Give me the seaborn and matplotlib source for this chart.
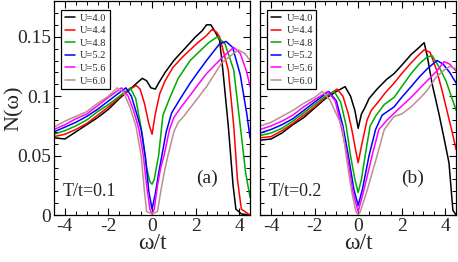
import pandas as pd
import seaborn as sns
import matplotlib.pyplot as plt
from matplotlib.ticker import MultipleLocator, FixedLocator

sns.set_style("ticks")
plt.rcParams['font.family'] = ['Liberation Serif', 'DejaVu Serif']
plt.rcParams['axes.unicode_minus'] = False

labels = ["U=4.0", "U=4.4", "U=4.8", "U=5.2", "U=5.6", "U=6.0"]
colors = ["black", "red", "#00aa00", "blue", "magenta", "#bc8f8f"]

# panel (a), T/t=0.1 : (omega, N) pairs
a_x_40 = [-4.5, -4.0, -3.5, -3.0, -2.5, -2.0, -1.5, -1.0, -0.7, -0.45, -0.25, -0.05, 0.15, 0.3, 0.6, 1.0, 1.5, 2.0, 2.3, 2.5, 2.7, 2.9, 3.1, 3.25, 3.5, 3.72, 3.85, 4.1, 4.5]
a_y_40 = [0.065, 0.064, 0.070, 0.076, 0.082, 0.089, 0.098, 0.106, 0.111, 0.115, 0.113, 0.107, 0.106, 0.111, 0.120, 0.130, 0.140, 0.150, 0.155, 0.160, 0.160, 0.154, 0.147, 0.122, 0.075, 0.025, 0.005, 0.001, 0.0]
a_x_44 = [-4.5, -4.0, -3.5, -3.0, -2.5, -2.0, -1.5, -1.0, -0.73, -0.55, -0.35, -0.15, 0.0, 0.15, 0.35, 0.6, 0.95, 1.4, 1.75, 2.1, 2.5, 2.75, 2.95, 3.1, 3.5, 3.75, 3.92, 4.1, 4.5]
a_y_44 = [0.066, 0.068, 0.072, 0.077, 0.084, 0.091, 0.099, 0.106, 0.109, 0.106, 0.094, 0.077, 0.068, 0.085, 0.102, 0.113, 0.124, 0.133, 0.139, 0.145, 0.151, 0.156, 0.154, 0.150, 0.122, 0.075, 0.030, 0.005, 0.0]
a_x_48 = [-4.5, -4.0, -3.5, -3.0, -2.5, -2.0, -1.5, -1.0, -0.75, -0.45, -0.25, -0.1, 0.0, 0.1, 0.3, 0.5, 0.8, 1.2, 1.75, 2.2, 2.6, 3.0, 3.35, 3.75, 4.05, 4.3, 4.5]
a_y_48 = [0.068, 0.071, 0.075, 0.080, 0.087, 0.093, 0.100, 0.107, 0.098, 0.068, 0.040, 0.028, 0.026, 0.030, 0.050, 0.084, 0.098, 0.115, 0.130, 0.138, 0.145, 0.150, 0.144, 0.122, 0.075, 0.035, 0.015]
a_x_52 = [-4.5, -4.0, -3.5, -3.0, -2.5, -2.0, -1.5, -1.2, -0.95, -0.75, -0.5, -0.3, -0.15, 0.0, 0.15, 0.3, 0.45, 0.65, 0.9, 1.3, 1.75, 2.1, 2.5, 2.8, 3.1, 3.4, 3.7, 4.05, 4.35, 4.5]
a_y_52 = [0.070, 0.074, 0.078, 0.083, 0.089, 0.096, 0.103, 0.107, 0.100, 0.088, 0.072, 0.048, 0.020, 0.005, 0.018, 0.035, 0.050, 0.070, 0.086, 0.098, 0.111, 0.120, 0.130, 0.137, 0.144, 0.146, 0.141, 0.118, 0.085, 0.065]
a_x_56 = [-4.5, -4.0, -3.5, -3.0, -2.5, -2.0, -1.4, -1.1, -0.85, -0.6, -0.4, -0.25, -0.1, 0.0, 0.1, 0.25, 0.4, 0.55, 0.8, 1.0, 1.3, 1.8, 2.5, 3.25, 3.75, 4.05, 4.35, 4.5]
a_y_56 = [0.072, 0.076, 0.081, 0.085, 0.092, 0.099, 0.107, 0.100, 0.088, 0.072, 0.050, 0.025, 0.005, 0.001, 0.005, 0.025, 0.040, 0.050, 0.072, 0.082, 0.090, 0.102, 0.119, 0.133, 0.141, 0.136, 0.120, 0.108]
a_x_60 = [-4.5, -4.0, -3.5, -3.0, -2.5, -2.0, -1.6, -1.3, -1.0, -0.73, -0.5, -0.35, -0.25, 0.0, 0.25, 0.4, 0.55, 0.73, 1.0, 1.2, 1.45, 2.0, 2.5, 3.2, 3.95, 4.25, 4.5]
a_y_60 = [0.074, 0.079, 0.083, 0.087, 0.094, 0.100, 0.107, 0.103, 0.090, 0.074, 0.050, 0.020, 0.003, 0.001, 0.003, 0.020, 0.035, 0.050, 0.070, 0.078, 0.083, 0.096, 0.108, 0.128, 0.139, 0.136, 0.130]

# panel (b), T/t=0.2
b_x_40 = [-4.5, -4.0, -3.5, -3.0, -2.5, -2.0, -1.5, -1.0, -0.6, -0.35, -0.15, 0.0, 0.15, 0.3, 0.5, 0.87, 1.3, 1.65, 2.0, 2.43, 2.8, 3.03, 3.17, 3.4, 3.7, 3.95, 4.17, 4.35, 4.5]
b_y_40 = [0.063, 0.064, 0.069, 0.076, 0.082, 0.090, 0.098, 0.104, 0.108, 0.100, 0.088, 0.073, 0.085, 0.090, 0.098, 0.106, 0.114, 0.119, 0.126, 0.135, 0.141, 0.145, 0.134, 0.110, 0.086, 0.064, 0.044, 0.004, 0.0]
b_x_44 = [-4.5, -4.0, -3.5, -3.0, -2.5, -2.0, -1.5, -0.97, -0.7, -0.45, -0.27, -0.12, 0.0, 0.15, 0.41, 0.6, 0.87, 1.25, 1.65, 2.0, 2.43, 2.8, 3.03, 3.3, 3.6, 3.85, 4.3, 4.5]
b_y_44 = [0.065, 0.066, 0.071, 0.077, 0.084, 0.091, 0.099, 0.106, 0.100, 0.085, 0.070, 0.055, 0.044, 0.058, 0.080, 0.088, 0.094, 0.103, 0.111, 0.119, 0.128, 0.135, 0.139, 0.137, 0.122, 0.105, 0.071, 0.055]
b_x_48 = [-4.5, -4.0, -3.5, -3.0, -2.5, -2.0, -1.5, -1.1, -0.8, -0.55, -0.35, -0.15, 0.0, 0.15, 0.32, 0.55, 0.83, 1.2, 1.65, 2.0, 2.43, 2.8, 3.17, 3.4, 3.7, 4.03, 4.5]
b_y_48 = [0.067, 0.069, 0.073, 0.079, 0.086, 0.093, 0.100, 0.104, 0.095, 0.075, 0.050, 0.030, 0.019, 0.030, 0.050, 0.075, 0.084, 0.093, 0.099, 0.108, 0.119, 0.127, 0.133, 0.134, 0.125, 0.113, 0.088]
b_x_52 = [-4.5, -4.0, -3.5, -3.0, -2.5, -2.0, -1.35, -1.0, -0.7, -0.45, -0.2, 0.0, 0.2, 0.5, 0.8, 1.1, 1.65, 2.0, 2.43, 2.8, 3.17, 3.62, 3.9, 4.2, 4.5]
b_y_52 = [0.069, 0.072, 0.076, 0.081, 0.088, 0.095, 0.104, 0.096, 0.075, 0.050, 0.022, 0.008, 0.022, 0.050, 0.072, 0.084, 0.091, 0.099, 0.108, 0.116, 0.123, 0.130, 0.127, 0.120, 0.111]
b_x_56 = [-4.5, -4.0, -3.5, -3.0, -2.5, -2.0, -1.4, -1.05, -0.75, -0.5, -0.25, 0.0, 0.25, 0.64, 0.95, 1.33, 1.9, 2.43, 2.8, 3.17, 3.6, 3.95, 4.2, 4.5]
b_y_56 = [0.072, 0.075, 0.079, 0.084, 0.091, 0.097, 0.104, 0.096, 0.072, 0.050, 0.020, 0.003, 0.020, 0.050, 0.072, 0.080, 0.090, 0.099, 0.106, 0.113, 0.121, 0.129, 0.127, 0.121]
b_x_60 = [-4.5, -4.0, -3.5, -3.0, -2.5, -2.0, -1.65, -1.3, -1.0, -0.73, -0.55, -0.3, -0.1, 0.0, 0.1, 0.4, 0.87, 1.2, 1.65, 2.0, 2.43, 2.93, 3.17, 3.58, 3.95, 4.2, 4.5]
b_y_60 = [0.075, 0.078, 0.083, 0.088, 0.094, 0.099, 0.104, 0.097, 0.085, 0.074, 0.050, 0.020, 0.003, 0.0, 0.003, 0.020, 0.050, 0.072, 0.083, 0.085, 0.091, 0.100, 0.105, 0.116, 0.122, 0.125, 0.123]

panels = {
    "a": [(a_x_40, a_y_40), (a_x_44, a_y_44), (a_x_48, a_y_48),
          (a_x_52, a_y_52), (a_x_56, a_y_56), (a_x_60, a_y_60)],
    "b": [(b_x_40, b_y_40), (b_x_44, b_y_44), (b_x_48, b_y_48),
          (b_x_52, b_y_52), (b_x_56, b_y_56), (b_x_60, b_y_60)],
}
temps = {"a": "T/t=0.1", "b": "T/t=0.2"}

fig = plt.figure(figsize=(4.58, 2.62), dpi=100)
ax_a = fig.add_axes([0.118, 0.179, 0.428, 0.817])
ax_b = fig.add_axes([0.568, 0.179, 0.428, 0.817])

for key, ax in [("a", ax_a), ("b", ax_b)]:
    rows = []
    for lab, (xs, ys) in zip(labels, panels[key]):
        for i, (xv, yv) in enumerate(zip(xs, ys)):
            rows.append({"w": xv, "N": yv, "U": lab, "i": i})
    df = pd.DataFrame(rows)
    sns.lineplot(data=df, x="w", y="N", hue="U", hue_order=labels, palette=colors,
                 estimator=None, sort=False, linewidth=1.1, ax=ax)
    ax.set_xlim(-4.5, 4.5)
    ax.set_ylim(0, 0.18)
    ax.xaxis.set_major_locator(FixedLocator([-4, -2, 0, 2, 4]))
    ax.xaxis.set_minor_locator(MultipleLocator(0.5))
    ax.yaxis.set_major_locator(FixedLocator([0, 0.05, 0.1, 0.15]))
    ax.yaxis.set_minor_locator(MultipleLocator(0.01))
    ax.tick_params(which="both", direction="in", top=True, right=True, color="black")
    ax.tick_params(which="major", length=5, width=0.8, labelsize=14, pad=2)
    ax.tick_params(which="minor", length=3, width=0.7)
    for s in ax.spines.values():
        s.set_color("black")
        s.set_linewidth(0.9)
    ax.set_xlabel("ω/t", fontsize=17, labelpad=-1)
    ax.set_ylabel("")
    ax.text(-4.1, 0.02, temps[key], fontsize=13, va="center", ha="left")
    ax.text(2.5, 0.031, "(" + key + ")", fontsize=14, va="center", ha="center")
    h, l = ax.get_legend_handles_labels()
    leg = ax.legend(h, l, loc="upper left", bbox_to_anchor=(0.035, 0.96),
                    fontsize=7.5, frameon=True, fancybox=False, framealpha=1,
                    edgecolor="black", handlelength=1.0, handletextpad=0.5,
                    labelspacing=0.32, borderpad=0.35, borderaxespad=0)
    leg.get_frame().set_linewidth(0.9)

ax_a.set_yticklabels(["0", "0.05", "0.1", "0.15"])
ax_b.set_yticklabels([])
ax_a.set_ylabel("N(ω)", fontsize=16, va="center")
ax_a.yaxis.set_label_coords(-0.205, 0.5)

fig.savefig("out.png", dpi=100)
